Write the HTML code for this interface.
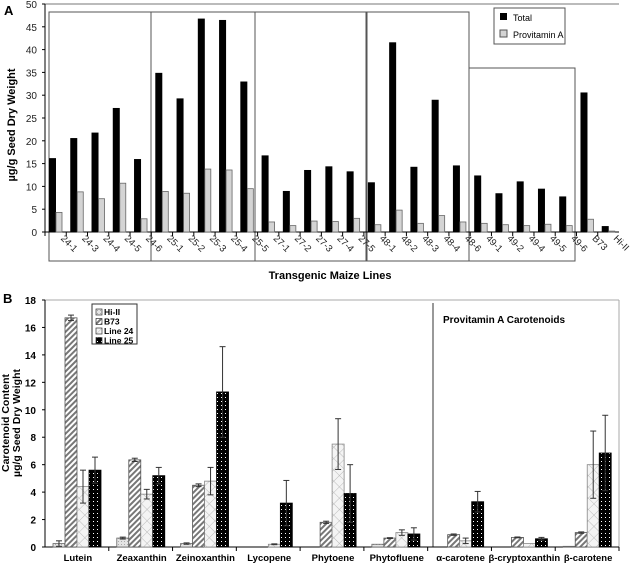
<!DOCTYPE html>
<html><head><meta charset="utf-8">
<style>
html,body{margin:0;padding:0;background:#fff;}
svg{display:block;font-family:"Liberation Sans",Arial,sans-serif;}
</style></head>
<body>
<svg id="fig" width="630" height="564" viewBox="0 0 630 564" xmlns="http://www.w3.org/2000/svg">
<defs>
<pattern id="pDot" width="3" height="3" patternUnits="userSpaceOnUse"><rect width="3" height="3" fill="#e4e4e4"/><rect x="1" y="1" width="1" height="1" fill="#aaa"/></pattern>
<pattern id="pHatch" width="4" height="4" patternUnits="userSpaceOnUse" patternTransform="rotate(45)"><rect width="4" height="4" fill="#fff"/><rect width="2" height="4" fill="#777"/></pattern>
<pattern id="pCross" width="8" height="8" patternUnits="userSpaceOnUse" patternTransform="rotate(45)"><rect width="8" height="8" fill="#f4f4f4"/><path d="M0 0H8M0 0V8" stroke="#bbb" stroke-width="1"/></pattern>
<pattern id="pBlackDot" width="4" height="4" patternUnits="userSpaceOnUse"><rect width="4" height="4" fill="#000"/><rect x="1" y="1" width="1" height="1" fill="#fff"/></pattern>
</defs>
<g id="chartA"></g>
<g id="chartB"></g>
</svg>
<script>
// ---------- Chart A data ----------
const catsA = ["24-1","24-3","24-4","24-5","24-6","25-1","25-2","25-3","25-4","25-5","27-1","27-2","27-3","27-4","27-5","48-1","48-2","48-3","48-4","48-6","49-1","49-2","49-4","49-5","49-6","B73","Hi-II"];
const totalA = [16.2,20.6,21.8,27.2,16.0,34.9,29.3,46.8,46.5,33.0,16.8,9.0,13.6,14.4,13.3,10.9,41.6,14.3,29.0,14.6,12.4,8.5,11.1,9.5,7.8,30.6,1.3];
const provA = [4.3,8.8,7.3,10.7,2.9,8.9,8.5,13.8,13.6,9.5,2.2,1.4,2.4,2.3,3.0,1.6,4.8,1.9,3.6,2.2,1.9,1.6,1.4,1.7,1.4,2.8,0.2];
const ticksA = [0,5,10,15,20,25,30,35,40,45,50];

// ---------- Chart B data ----------
const catsB = ["Lutein","Zeaxanthin","Zeinoxanthin","Lycopene","Phytoene","Phytofluene","α-carotene","β-cryptoxanthin","β-carotene"];
const seriesNamesB = ["Hi-II","B73","Line 24","Line 25"];
const hiII = [0.25,0.65,0.25,0,0,0.2,0,0,0.05];
const b73 = [16.7,6.35,4.5,0,1.8,0.65,0.9,0.7,1.05];
const line24 = [4.4,3.85,4.8,0.2,7.5,1.05,0.45,0.25,6.0];
const line25 = [5.6,5.2,11.3,3.2,3.9,0.95,3.3,0.6,6.85];
const errHiII = [0.2,0.07,0.05,0,0,0,0,0,0];
const errB73 = [0.2,0.12,0.1,0,0.08,0.03,0.05,0.03,0.05];
const errL24 = [1.2,0.35,1.0,0.03,1.85,0.2,0.2,0,2.45];
const errL25 = [0.95,0.6,3.3,1.65,2.1,0.45,0.75,0.1,2.75];
const ticksB = [0,2,4,6,8,10,12,14,16,18];

const NS="http://www.w3.org/2000/svg";
function mk(parent,tag,attrs,text){const e=document.createElementNS(NS,tag);for(const k in attrs)e.setAttribute(k,attrs[k]);if(text!==undefined)e.textContent=text;parent.appendChild(e);return e;}

// ===== Chart A =====
(function(){
const g=document.getElementById('chartA');
const L=45,R=619,T=4,B=232,max=50;
const y=v=>B-(v/max)*(B-T);
const cw=(R-L)/catsA.length;
const x=i=>L+i*cw;
let e;
e=mk(g,'text',{x:4,y:15,'font-size':13,'font-weight':'bold'},'A');

e=mk(g,'line',{x1:L,y1:T,x2:R,y2:T,stroke:'#777','stroke-width':1});

const boxes=[[49,12,151,261],[151,12,255,261],[255,12,366,261],[367,12,469,261],[469,68,575,261]];
boxes.forEach((b,i)=>{e=mk(g,'rect',{x:b[0],y:b[1],width:b[2]-b[0],height:b[3]-b[1],fill:'none',stroke:'#555','stroke-width':1});
});
e=mk(g,'line',{x1:L,y1:T,x2:L,y2:B,stroke:'#000'});
e=mk(g,'line',{x1:L,y1:B,x2:R,y2:B,stroke:'#000'});
ticksA.forEach(t=>{
 e=mk(g,'line',{x1:L-3,y1:y(t),x2:L,y2:y(t),stroke:'#000'});
 e=mk(g,'text',{x:L-8,y:y(t)+4,'font-size':10,'text-anchor':'end',fill:'#222'},t);
});
catsA.forEach((c,i)=>{
 e=mk(g,'line',{x1:x(i),y1:B,x2:x(i),y2:B+4,stroke:'#000'});
 e=mk(g,'rect',{x:x(i)+4,y:y(totalA[i]),width:7,height:B-y(totalA[i]),fill:'#000'});
 
 e=mk(g,'rect',{x:x(i)+11,y:y(provA[i]),width:6,height:B-y(provA[i]),fill:'#d4d4d4',stroke:'#666','stroke-width':0.8});
 
 const lx=x(i)+cw-6,ly=B+7;
 e=mk(g,'text',{x:lx,y:ly,'font-size':9.5,fill:'#222',transform:`rotate(45 ${lx} ${ly})`},c);
 
});
e=mk(g,'text',{x:15,y:125,'font-size':11,'font-weight':'bold','text-anchor':'middle',transform:'rotate(-90 15 125)'},'µg/g Seed Dry Weight');

e=mk(g,'text',{x:330,y:279,'font-size':11,'font-weight':'bold','text-anchor':'middle'},'Transgenic Maize Lines');

const lg=mk(g,'g',{});
mk(lg,'rect',{x:494,y:8,width:71,height:36,fill:'#fff',stroke:'#555'});
e=mk(lg,'rect',{x:500,y:13,width:7,height:7,fill:'#000'});
e=mk(lg,'text',{x:513,y:21,'font-size':9},'Total');
e=mk(lg,'rect',{x:500,y:30,width:7,height:7,fill:'#d4d4d4',stroke:'#555'});
e=mk(lg,'text',{x:513,y:38,'font-size':9},'Provitamin A');
})();

// ===== Chart B =====
(function(){
const g=document.getElementById('chartB');
const L=45,R=619,T=300,B=547,max=18;
const y=v=>B-(v/max)*(B-T);
const cw=(R-L)/catsB.length;
const x=i=>L+i*cw;
const fills=['url(#pDot)','url(#pHatch)','url(#pCross)','url(#pBlackDot)'];
const strokes=['#666','#555','#888','#000'];
const vals=[hiII,b73,line24,line25];
const errs=[errHiII,errB73,errL24,errL25];
const keys=['hi-ii','b73','line24','line25'];
let e;
e=mk(g,'text',{x:3,y:303,'font-size':13,'font-weight':'bold'},'B');

e=mk(g,'line',{x1:L,y1:T,x2:R,y2:T,stroke:'#aaa'});
e=mk(g,'line',{x1:R,y1:T,x2:R,y2:B,stroke:'#aaa'});
e=mk(g,'line',{x1:433,y1:303,x2:433,y2:B,stroke:'#333'});
e=mk(g,'text',{x:443,y:323,'font-size':10,'font-weight':'bold'},'Provitamin A Carotenoids');

e=mk(g,'line',{x1:L,y1:T,x2:L,y2:B,stroke:'#000'});
e=mk(g,'line',{x1:L,y1:B,x2:R,y2:B,stroke:'#000'});
ticksB.forEach(t=>{
 e=mk(g,'line',{x1:L-3,y1:y(t),x2:L,y2:y(t),stroke:'#000'});
 e=mk(g,'text',{x:L-9,y:y(t)+4,'font-size':10,'font-weight':'bold','text-anchor':'end'},t);
});
catsB.forEach((c,i)=>{
 e=mk(g,'line',{x1:x(i+1),y1:B,x2:x(i+1),y2:B+4,stroke:'#000'});
 e=mk(g,'text',{x:x(i)+cw/2+1,y:561,'font-size':9.5,'font-weight':'bold','text-anchor':'middle'},c);
 
 for(let s=0;s<4;s++){
  const v=vals[s][i];const bx=x(i)+8+s*12;
  if(v>0){
   e=mk(g,'rect',{x:bx,y:y(v),width:12,height:B-y(v),fill:fills[s],stroke:strokes[s],'stroke-width':0.8});
   
  }
  const er=errs[s][i];
  if(er>0){
   const cx=bx+6,y1=y(v+er),y2=y(Math.max(0,v-er));
   const eg=mk(g,'g',{stroke:'#333','stroke-width':1});
   
   mk(eg,'line',{x1:cx,y1:y1,x2:cx,y2:y2});
   mk(eg,'line',{x1:cx-3,y1:y1,x2:cx+3,y2:y1});
   mk(eg,'line',{x1:cx-3,y1:y2,x2:cx+3,y2:y2});
  }
 }
});
e=mk(g,'text',{x:9,y:423,'font-size':10.5,'font-weight':'bold','text-anchor':'middle',transform:'rotate(-90 9 423)'},'Carotenoid Content');

e=mk(g,'text',{x:20,y:423,'font-size':10.5,'font-weight':'bold','text-anchor':'middle',transform:'rotate(-90 20 423)'},'µg/g Seed Dry Weight');

const lg=mk(g,'g',{});
mk(lg,'rect',{x:92,y:304,width:45,height:40,fill:'#fff',stroke:'#333'});
seriesNamesB.forEach((n,s)=>{
 const yy=309+s*9.5;
 e=mk(lg,'rect',{x:96,y:yy,width:6,height:6,fill:fills[s],stroke:'#333','stroke-width':0.7});
 
 e=mk(lg,'text',{x:104,y:yy+6,'font-size':8.5,'font-weight':'bold'},n);
 
});
})();
</script>
</body></html>
